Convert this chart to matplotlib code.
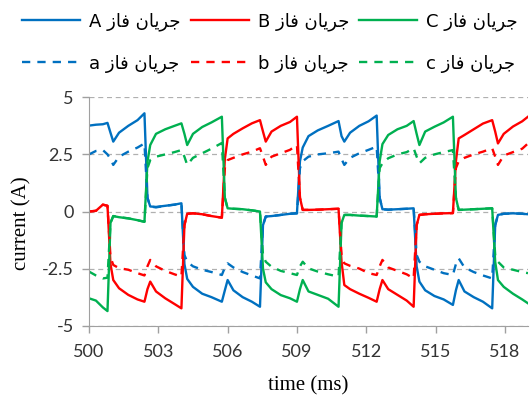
import matplotlib
matplotlib.use('Agg')
import matplotlib.pyplot as plt

# sample times (ms) shared by all six series
time_ms = [500.0, 500.3, 500.6, 500.8,
           500.93, 501.05, 501.3, 501.7, 502.1, 502.4,
           502.53, 502.65, 502.9, 503.3, 503.7, 504.0,
           504.13, 504.25, 504.5, 504.9, 505.3, 505.75,
           505.88, 506.0, 506.25, 506.65, 507.05, 507.4,
           507.53, 507.65, 507.9, 508.3, 508.7, 509.0,
           509.13, 509.25, 509.5, 509.9, 510.35, 510.8,
           510.93, 511.05, 511.3, 511.7, 512.1, 512.45,
           512.58, 512.7, 512.95, 513.35, 513.75, 514.05,
           514.18, 514.3, 514.55, 514.95, 515.35, 515.75,
           515.88, 516.0, 516.25, 516.65, 517.05, 517.45,
           517.58, 517.7, 517.95, 518.35, 518.75, 519.0]

# phase currents (A), solid lines
phase_A = [3.76, 3.8, 3.82, 3.88,
           3.45, 3.06, 3.45, 3.75, 4.0, 4.3,
           0.6, 0.22, 0.2, 0.25, 0.3, 0.36,
           -2.3, -2.95, -3.3, -3.6, -3.75, -3.95,
           -3.45, -3.0, -3.45, -3.75, -3.95, -4.17,
           -0.6, -0.22, -0.2, -0.15, -0.1, -0.08,
           2.2, 2.8, 3.3, 3.55, 3.75, 3.96,
           3.3, 3.06, 3.45, 3.75, 3.95, 4.2,
           0.6, 0.1, 0.08, 0.1, 0.12, 0.14,
           -2.4, -3.07, -3.45, -3.7, -3.85, -4.09,
           -3.45, -3.0, -3.5, -3.75, -3.95, -4.24,
           -0.6, -0.15, -0.1, -0.08, -0.1, -0.12]
phase_B = [0.0, 0.03, 0.3, 0.25,
           -2.3, -3.0, -3.36, -3.65, -3.85, -3.95,
           -3.4, -3.07, -3.5, -3.8, -4.05, -4.24,
           -0.6, -0.1, -0.08, -0.12, -0.2, -0.27,
           2.3, 3.2, 3.4, 3.64, 3.86, 4.0,
           3.5, 3.06, 3.5, 3.75, 3.92, 4.15,
           0.6, 0.07, 0.07, 0.08, 0.1, 0.12,
           -2.2, -3.22, -3.4, -3.6, -3.78, -3.95,
           -3.4, -3.0, -3.4, -3.65, -3.9, -4.17,
           -0.6, -0.15, -0.12, -0.1, -0.08, -0.07,
           2.2, 3.2, 3.35, 3.6, 3.85, 4.0,
           3.5, 2.98, 3.4, 3.72, 3.95, 4.15]
phase_C = [-3.8, -3.9, -4.2, -4.36,
           -0.5, -0.2, -0.25, -0.3, -0.38, -0.45,
           2.18, 2.91, 3.4, 3.6, 3.75, 3.86,
           3.4, 2.91, 3.4, 3.7, 3.9, 4.15,
           0.6, 0.14, 0.12, 0.1, 0.05, 0.0,
           -2.5, -3.1, -3.4, -3.66, -3.8, -3.95,
           -3.4, -3.0, -3.5, -3.65, -3.82, -4.17,
           -0.5, -0.15, -0.15, -0.18, -0.2, -0.22,
           2.2, 2.95, 3.35, 3.6, 3.75, 3.96,
           3.4, 2.91, 3.5, 3.71, 3.9, 4.15,
           0.6, 0.07, 0.08, 0.1, 0.12, 0.14,
           -2.2, -3.0, -3.3, -3.6, -3.85, -4.02]

# phase currents (A), dashed lines
phase_a = [2.5, 2.65, 2.69, 2.5,
           2.3, 2.04, 2.4, 2.62, 2.8, 2.98,
           0.6, 0.22, 0.18, 0.25, 0.3, 0.35,
           -1.9, -2.2, -2.4, -2.55, -2.65, -2.78,
           -2.45, -2.27, -2.45, -2.65, -2.8, -2.93,
           -0.6, -0.22, -0.2, -0.15, -0.1, -0.08,
           1.9, 2.2, 2.4, 2.5, 2.55, 2.62,
           2.3, 2.04, 2.35, 2.55, 2.7, 2.84,
           0.6, 0.1, 0.08, 0.1, 0.12, 0.14,
           -1.9, -2.2, -2.4, -2.55, -2.7, -2.78,
           -2.3, -2.05, -2.45, -2.65, -2.8, -2.93,
           -0.6, -0.15, -0.1, -0.08, -0.1, -0.12]
phase_b = [0.0, 0.03, 0.3, 0.25,
           -2.0, -2.34, -2.48, -2.55, -2.7, -2.8,
           -2.4, -2.12, -2.4, -2.6, -2.75, -2.85,
           -0.6, -0.1, -0.08, -0.12, -0.2, -0.27,
           1.9, 2.25, 2.35, 2.5, 2.62, 2.77,
           2.4, 2.04, 2.4, 2.55, 2.7, 2.91,
           0.6, 0.07, 0.07, 0.08, 0.1, 0.12,
           -1.9, -2.27, -2.38, -2.5, -2.7, -2.78,
           -2.4, -2.12, -2.45, -2.6, -2.75, -2.93,
           -0.6, -0.15, -0.12, -0.1, -0.08, -0.07,
           1.9, 2.2, 2.35, 2.5, 2.62, 2.77,
           2.4, 2.04, 2.45, 2.6, 2.75, 2.98]
phase_c = [-2.63, -2.8, -2.93, -2.9,
           -0.5, -0.2, -0.25, -0.3, -0.38, -0.45,
           1.9, 2.25, 2.4, 2.5, 2.6, 2.69,
           2.4, 2.04, 2.35, 2.55, 2.75, 3.0,
           0.6, 0.14, 0.12, 0.1, 0.05, 0.0,
           -1.9, -2.2, -2.42, -2.6, -2.7, -2.78,
           -2.4, -2.2, -2.49, -2.63, -2.75, -2.85,
           -0.5, -0.15, -0.15, -0.18, -0.2, -0.22,
           1.9, 2.11, 2.33, 2.5, 2.6, 2.77,
           2.4, 2.11, 2.35, 2.5, 2.6, 2.69,
           0.6, 0.07, 0.08, 0.1, 0.12, 0.14,
           -1.9, -2.2, -2.45, -2.55, -2.65, -2.7]

x_ticks = [500, 503, 506, 509, 512, 515, 518]
y_ticks = [5, 2.5, 0, -2.5, -5]
y_tick_labels = ['5', '2.5', '0', '-2.5', '-5']

# "جریان فاز" pre-shaped into presentation forms, in visual (left-to-right) order
jaryan = '\uFEE5\uFE8E\uFBFE\uFEAE\uFE9F'
faz = '\uFEAF\uFE8E\uFED3'
phase_names = ['A', 'B', 'C', 'a', 'b', 'c']
labels = ['{} {} {}'.format(p, faz, jaryan) for p in phase_names]

blue = '#0070C0'
red = '#FF0000'
green = '#00B050'

fig = plt.figure(figsize=(5.3, 3.99), dpi=100)
ax = fig.add_axes([89 / 530, 1 - 325.7 / 399, 439 / 530, 228.4 / 399])

solid_lines = []
for values, color in zip([phase_A, phase_B, phase_C], [blue, red, green]):
    line, = ax.plot(time_ms, values, color=color, linewidth=1.7, solid_joinstyle='round')
    solid_lines.append(line)
dashed_lines = []
for values, color in zip([phase_a, phase_b, phase_c], [blue, red, green]):
    line, = ax.plot(time_ms, values, color=color, linewidth=1.7, linestyle=(0, (3.5, 3)))
    dashed_lines.append(line)

ax.set_xlim(500, 519.0)
ax.set_ylim(-5, 5)
ax.set_xticks(x_ticks)
ax.set_xticklabels([str(v) for v in x_ticks])
ax.set_yticks(y_ticks)
ax.set_yticklabels(y_tick_labels)
for lab in ax.get_xticklabels() + ax.get_yticklabels():
    lab.set_family('Lato')
    lab.set_fontsize(13)
    lab.set_color('#333333')
ax.tick_params(direction='out', length=5, color='#A0A0A0', width=1)
ax.tick_params(axis='x', pad=8)
ax.tick_params(axis='y', pad=6)

ax.grid(axis='y', color='#B0B0B0', linestyle='--', linewidth=0.9, dashes=(4, 3))
ax.set_axisbelow(True)
for side in ['top', 'right']:
    ax.spines[side].set_visible(False)
for side in ['left', 'bottom']:
    ax.spines[side].set_color('#A0A0A0')

ax.set_xlabel('time (ms)', family='Liberation Serif', fontsize=15)
ax.set_ylabel('current (A)', family='Liberation Serif', fontsize=15)
ax.xaxis.set_label_coords(0.5, -0.222)
ax.yaxis.set_label_coords(-0.13, 0.45)

# legend: two rows (upper/lower case), three columns
handles = [solid_lines[0], dashed_lines[0], solid_lines[1], dashed_lines[1],
           solid_lines[2], dashed_lines[2]]
leg_labels = [labels[0], labels[3], labels[1], labels[4], labels[2], labels[5]]
fig.legend(handles, leg_labels, loc='upper left', bbox_to_anchor=(22 / 530, 1 - 12 / 399),
           ncol=3, frameon=False, borderpad=0, borderaxespad=0,
           handlelength=3.2, handletextpad=0.5, columnspacing=0.58, labelspacing=1.3,
           prop={'family': ['DejaVu Sans'], 'size': 13})

fig.savefig('out.png', dpi=100)
